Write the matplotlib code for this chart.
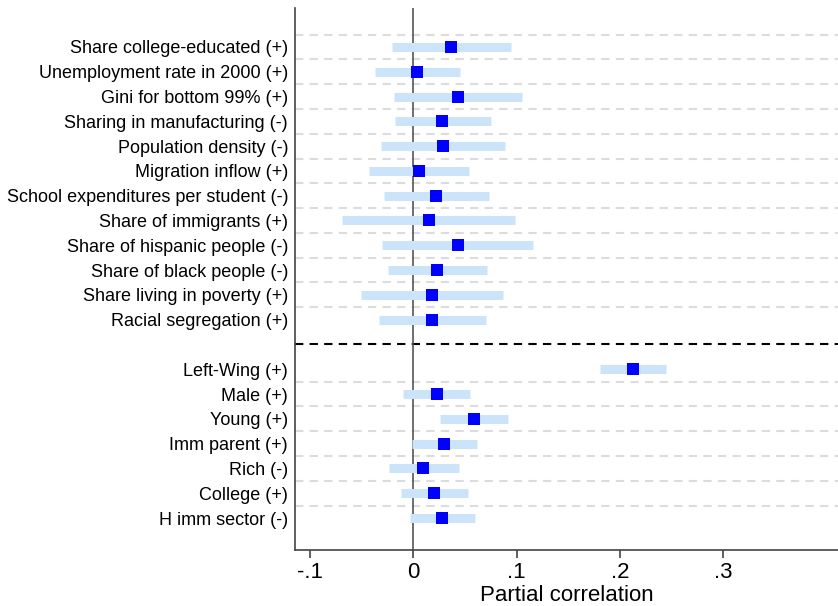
import matplotlib
matplotlib.use("Agg")
import matplotlib.pyplot as plt
import numpy as np

plt.rcParams['font.family'] = ['Liberation Sans', 'DejaVu Sans']

labels_top = ["Share college-educated (+)", "Unemployment rate in 2000 (+)", "Gini for bottom 99% (+)",
              "Sharing in manufacturing (-)", "Population density (-)", "Migration inflow (+)",
              "School expenditures per student (-)", "Share of immigrants (+)",
              "Share of hispanic people (-)", "Share of black people (-)",
              "Share living in poverty (+)", "Racial segregation (+)"]
est_top = [0.037, 0.004, 0.043, 0.028, 0.029, 0.006, 0.022, 0.015, 0.043, 0.023, 0.018, 0.018]
lo_top = [-0.020, -0.037, -0.019, -0.018, -0.031, -0.043, -0.028, -0.069, -0.030, -0.024, -0.050, -0.033]
hi_top = [0.095, 0.045, 0.105, 0.075, 0.089, 0.054, 0.073, 0.099, 0.116, 0.071, 0.087, 0.070]

labels_bot = ["Left-Wing (+)", "Male (+)", "Young (+)", "Imm parent (+)", "Rich (-)",
              "College (+)", "H imm sector (-)"]
est_bot = [0.213, 0.023, 0.059, 0.030, 0.010, 0.020, 0.028]
lo_bot = [0.181, -0.010, 0.026, -0.001, -0.023, -0.012, -0.003]
hi_bot = [0.245, 0.055, 0.092, 0.062, 0.044, 0.053, 0.060]

xticks = [-0.1, 0, 0.1, 0.2, 0.3]
xticklabels = ["-.1", "0", ".1", ".2", ".3"]

fig = plt.figure(figsize=(8.38, 6.06), dpi=100)
ax = fig.add_axes([295/838, 1-550/606, (838-295)/838, (550-8)/606])

n_top = len(labels_top)
pos_top = np.arange(n_top)
sep = n_top
pos_bot = np.arange(n_top + 1, n_top + 1 + len(labels_bot))

labels = labels_top + labels_bot
pos = np.concatenate([pos_top, pos_bot])
est = np.array(est_top + est_bot)
lo = np.array(lo_top + lo_bot)
hi = np.array(hi_top + hi_bot)

# gridlines
grid_pos = list(pos_top - 0.5) + list(pos_bot[1:] - 0.5)
for g in grid_pos:
    ax.axhline(g, color='#dcdcdc', lw=1.5, ls=(0, (4, 3)), zorder=0)
ax.axhline(sep, color='black', lw=1.5, ls=(0, (4, 3)), zorder=1)
ax.axvline(0, color='#555555', lw=1.2, zorder=1)

ax.hlines(pos, lo, hi, color='#cce4fa', lw=6.5, zorder=2)
ax.scatter(est, pos, marker='s', s=84, color='#0000ff', zorder=3, linewidths=0)

ax.set_ylim(20.29, -1.57)
ax.set_xlim(-0.1143, 0.411)
ax.set_yticks(pos)
ax.set_yticklabels(labels, fontsize=13)
ax.tick_params(axis='y', length=0, pad=5)
ax.set_xticks(xticks)
ax.set_xticklabels(xticklabels, fontsize=16)
ax.tick_params(axis='x', length=6, width=1.2, color='#444444', pad=3)
ax.set_xlabel("Partial correlation", fontsize=16, labelpad=1)

for s in ['top', 'right']:
    ax.spines[s].set_visible(False)
for s in ['left', 'bottom']:
    ax.spines[s].set_color('#444444')
    ax.spines[s].set_linewidth(1.2)

fig.savefig("out.png", dpi=100)
